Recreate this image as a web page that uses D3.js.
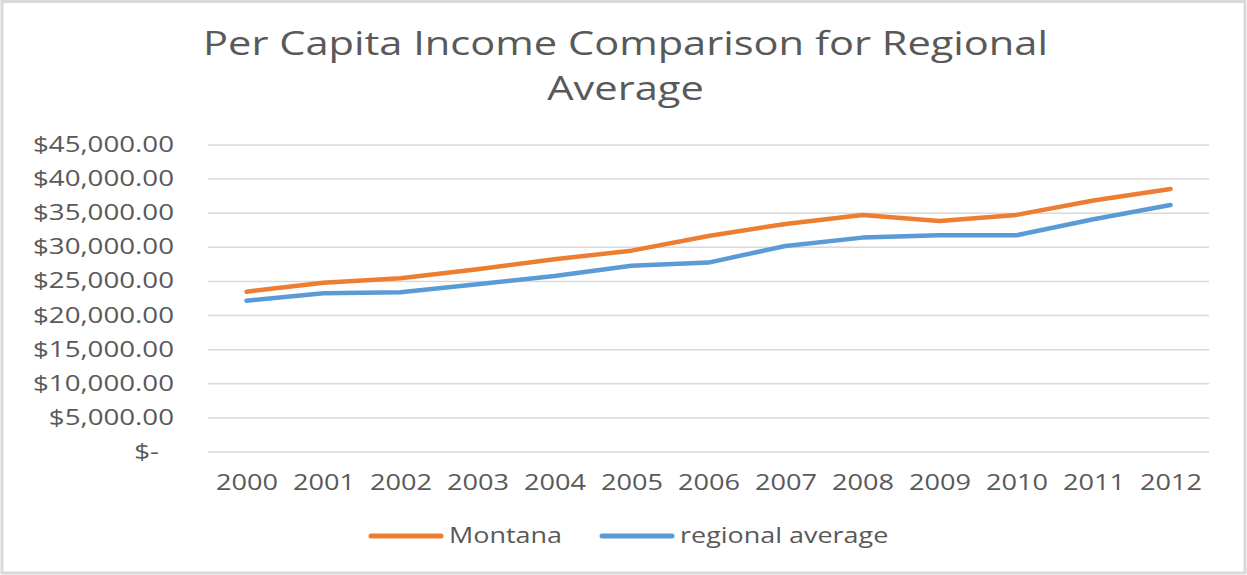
<!DOCTYPE html>
<html>
<head>
<meta charset="utf-8">
<script src="https://cdn.jsdelivr.net/npm/d3@7"></script>
<style>
  html, body { margin: 0; padding: 0; background: #fff; }
  svg { display: block; }
  text { font-family: "Open Sans", "Noto Sans", sans-serif; fill: #595959; }
</style>
</head>
<body>
<svg id="chart" width="1247" height="575"></svg>
<script>
// ---- data ----
const years = ["2000","2001","2002","2003","2004","2005","2006","2007","2008","2009","2010","2011","2012"];
const montana = [23430, 24750, 25400, 26710, 28180, 29440, 31600, 33360, 34680, 33800, 34680, 36780, 38490];
const regional = [22110, 23200, 23340, 24520, 25730, 27240, 27690, 30130, 31350, 31700, 31700, 34050, 36140];
const seriesNames = ["Montana", "regional average"];
const seriesColors = ["#ED7D31", "#5B9BD5"];
const yTicks = [0, 5000, 10000, 15000, 20000, 25000, 30000, 35000, 40000, 45000];
const titleLines = ["Per Capita Income Comparison for Regional", "Average"];

// ---- layout ----
const W = 1247, H = 575;
const plot = { left: 208, right: 1209, top: 144.5, bottom: 451.5 };
const svg = d3.select("#chart");

// stretch text horizontally to a target width (original rendering is wide)
function fitWidth(node, target) {
  const natural = node.getComputedTextLength();
  if (natural > 0) {
    d3.select(node).attr("textLength", target).attr("lengthAdjust", "spacingAndGlyphs");
  }
}
function stretch(sel, k) {
  sel.each(function() {
    const natural = this.getComputedTextLength();
    d3.select(this).attr("textLength", natural * k).attr("lengthAdjust", "spacingAndGlyphs");
  });
}

// frame
svg.append("rect")
  .attr("x", 2).attr("y", 1.5).attr("width", 1243).attr("height", 571.5)
  .attr("fill", "#fff").attr("stroke", "#d9d9d9").attr("stroke-width", 3);

// scales
const x = d3.scalePoint().domain(years).range([plot.left, plot.right]).padding(0.5);
const y = d3.scaleLinear().domain([0, 45000]).range([plot.bottom, plot.top]);

// gridlines
const grid = svg.append("g")
  .attr("transform", `translate(${plot.left},0)`)
  .call(d3.axisLeft(y).tickValues(yTicks).tickSize(-(plot.right - plot.left)).tickFormat(""));
grid.select(".domain").remove();
grid.selectAll(".tick line").attr("stroke", "#d9d9d9").attr("stroke-width", 1.5);

// y axis labels
const fmt = d3.format("$,.2f");
const yAxis = svg.append("g")
  .attr("transform", `translate(174,0)`)
  .call(d3.axisLeft(y).tickValues(yTicks).tickSize(0).tickPadding(0)
    .tickFormat(d => d === 0 ? "$-" : fmt(d)));
yAxis.select(".domain").remove();
yAxis.selectAll(".tick text")
  .style("font-size", "22px").style("font-family", "\"Open Sans\", sans-serif")
  .attr("fill", "#595959")
  .attr("x", d => d === 0 ? -15 : 0);

// x axis labels
const xAxis = svg.append("g")
  .attr("transform", `translate(0,${plot.bottom})`)
  .call(d3.axisBottom(x).tickSize(0).tickPadding(0));
xAxis.select(".domain").remove();
xAxis.selectAll(".tick text")
  .style("font-size", "21px").style("font-family", "\"Open Sans\", sans-serif")
  .attr("fill", "#595959")
  .attr("dy", null).attr("y", 38.5);

// lines
const line = d3.line().x((d, i) => x(years[i])).y(d => y(d));
[montana, regional].forEach((vals, i) => {
  svg.append("path")
    .datum(vals)
    .attr("d", line)
    .attr("fill", "none")
    .attr("stroke", seriesColors[i])
    .attr("stroke-width", 4.5)
    .attr("stroke-linejoin", "round")
    .attr("stroke-linecap", "round");
});

// title
const title = svg.append("g");
titleLines.forEach((t, i) => {
  title.append("text")
    .attr("x", 625.5).attr("y", 55 + i * 45)
    .attr("text-anchor", "middle")
    .style("font-size", "33px")
    .text(t);
});

// legend
const legendItems = [
  { name: seriesNames[0], color: seriesColors[0], x0: 371 },
  { name: seriesNames[1], color: seriesColors[1], x0: 602 }
];
const lg = svg.append("g");
legendItems.forEach(it => {
  lg.append("line")
    .attr("x1", it.x0).attr("x2", it.x0 + 70)
    .attr("y1", 536).attr("y2", 536)
    .attr("stroke", it.color).attr("stroke-width", 5).attr("stroke-linecap", "round");
  lg.append("text")
    .attr("class", "legtext")
    .attr("x", it.x0 + 78).attr("y", 543)
    .style("font-size", "22px")
    .text(it.name);
});

// horizontal stretch to match the reference's wide rendering
const titleNodes = title.selectAll("text").nodes();
const kTitle = 845 / titleNodes[0].getComputedTextLength();
stretch(title.selectAll("text"), kTitle);

const yNodes = yAxis.selectAll(".tick text").nodes();
const refY = yNodes.find(n => n.textContent === "$45,000.00");
const kY = 141 / refY.getComputedTextLength();
stretch(yAxis.selectAll(".tick text"), kY);

const xNodes = xAxis.selectAll(".tick text").nodes();
const kX = 62 / xNodes[0].getComputedTextLength();
stretch(xAxis.selectAll(".tick text"), kX);

const legNodes = lg.selectAll("text.legtext").nodes();
const kL = 113 / legNodes[0].getComputedTextLength();
stretch(lg.selectAll("text.legtext"), kL);
</script>
</body>
</html>
